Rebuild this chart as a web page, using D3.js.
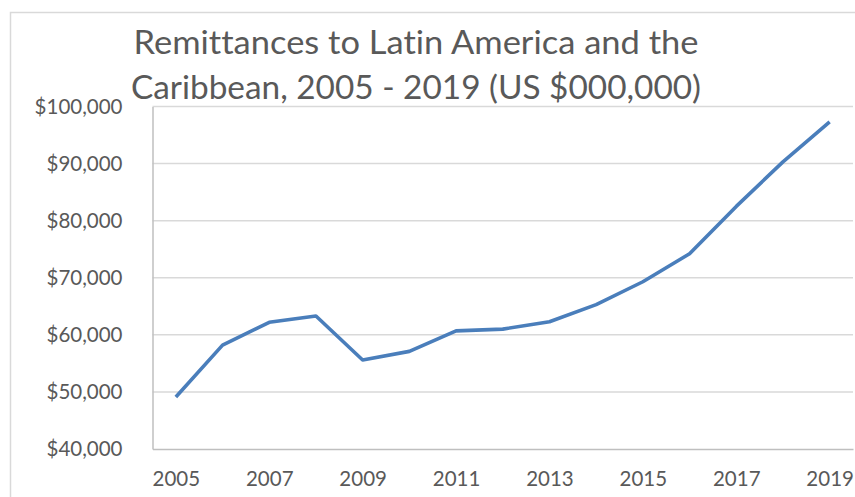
<!DOCTYPE html>
<html>
<head>
<meta charset="utf-8">
<script src="https://cdn.jsdelivr.net/npm/d3@7"></script>
<style>
  body { margin: 0; background: #fff; }
  text { font-family: Lato, "Open Sans", sans-serif; fill: #595959; font-variant-ligatures: none; }
</style>
</head>
<body>
<script>
// remittances, US$ millions
var years = [ 2005, 2006, 2007, 2008, 2009, 2010, 2011, 2012, 2013, 2014, 2015, 2016, 2017, 2018, 2019 ];
var remittances = [ 49100, 58200, 62200, 63300, 55600, 57100, 60700, 61000, 62300, 65300, 69300, 74200, 82500, 90300, 97300 ];
var yTicks = [ 40000, 50000, 60000, 70000, 80000, 90000, 100000 ];
var xTickYears = [ 2005, 2007, 2009, 2011, 2013, 2015, 2017, 2019 ];
var titleLines = [ "Remittances to Latin America and the", "Caribbean, 2005 - 2019 (US $000,000)" ];

var width = 855, height = 497;
var plot = { left: 152.5, right: 853, top: 106.5, bottom: 449 };

var svg = d3.select( "body" )
            .append( "svg" )
              .attr( "width", width )
              .attr( "height", height );

// chart frame
svg.append( "rect" )
  .attr( "x", 10.5 ).attr( "y", 12.5 )
  .attr( "width", 900 ).attr( "height", 600 )
  .attr( "fill", "none" )
  .attr( "stroke", "#d9d9d9" )
  .attr( "stroke-width", 1.5 );

var x = d3.scalePoint()
          .domain( years )
          .range( [ plot.left, plot.right ] )
          .padding( 0.5 );

var y = d3.scaleLinear()
          .domain( [ 40000, 100000 ] )
          .range( [ plot.bottom, plot.top ] );

// gridlines
svg.append( "g" )
  .selectAll( "line" )
  .data( yTicks.slice( 1 ) )
  .enter()
  .append( "line" )
    .attr( "x1", plot.left ).attr( "x2", plot.right )
    .attr( "y1", function(d){ return y(d); } )
    .attr( "y2", function(d){ return y(d); } )
    .attr( "stroke", "#d9d9d9" )
    .attr( "stroke-width", 1.5 );

// y axis
var yAxis = svg.append( "g" )
  .attr( "transform", "translate(" + plot.left + ",0)" )
  .call( d3.axisLeft( y ).tickValues( yTicks ).tickFormat( d3.format( "$," ) ).tickSize( 0 ).tickPadding( 30 ) );
yAxis.select( ".domain" ).attr( "stroke", "#bfbfbf" ).attr( "stroke-width", 1.5 );
yAxis.selectAll( "text" ).attr( "font-size", 20.5 ).attr( "fill", "#595959" ).style( "font-family", "Lato, sans-serif" );

// x axis
var xAxis = svg.append( "g" )
  .attr( "transform", "translate(0," + plot.bottom + ")" )
  .call( d3.axisBottom( x ).tickValues( xTickYears ).tickSize( 0 ).tickPadding( 22 ) );
xAxis.select( ".domain" ).attr( "stroke", "#bfbfbf" ).attr( "stroke-width", 1.5 );
xAxis.selectAll( "text" ).attr( "font-size", 20.5 ).attr( "fill", "#595959" ).style( "font-family", "Lato, sans-serif" );

// the line
var line = d3.line()
  .x( function(d,i){ return x( years[i] ); } )
  .y( function(d){ return y( d ); } );

svg.append( "path" )
  .datum( remittances )
  .attr( "d", line )
  .attr( "fill", "none" )
  .attr( "stroke", "#4a7ebb" )
  .attr( "stroke-width", 3.6 )
  .attr( "stroke-linejoin", "round" );

// title
var titleWidths = [ 565, 570 ];
svg.append( "g" )
  .selectAll( "text" )
  .data( titleLines )
  .enter()
  .append( "text" )
    .attr( "x", 416 )
    .attr( "y", function(d,i){ return 54 + i*44.5; } )
    .attr( "text-anchor", "middle" )
    .attr( "font-size", 33 )
    .attr( "textLength", function(d,i){ return titleWidths[i]; } )
    .attr( "lengthAdjust", "spacingAndGlyphs" )
    .text( function(d){ return d; } );
</script>
</body>
</html>
